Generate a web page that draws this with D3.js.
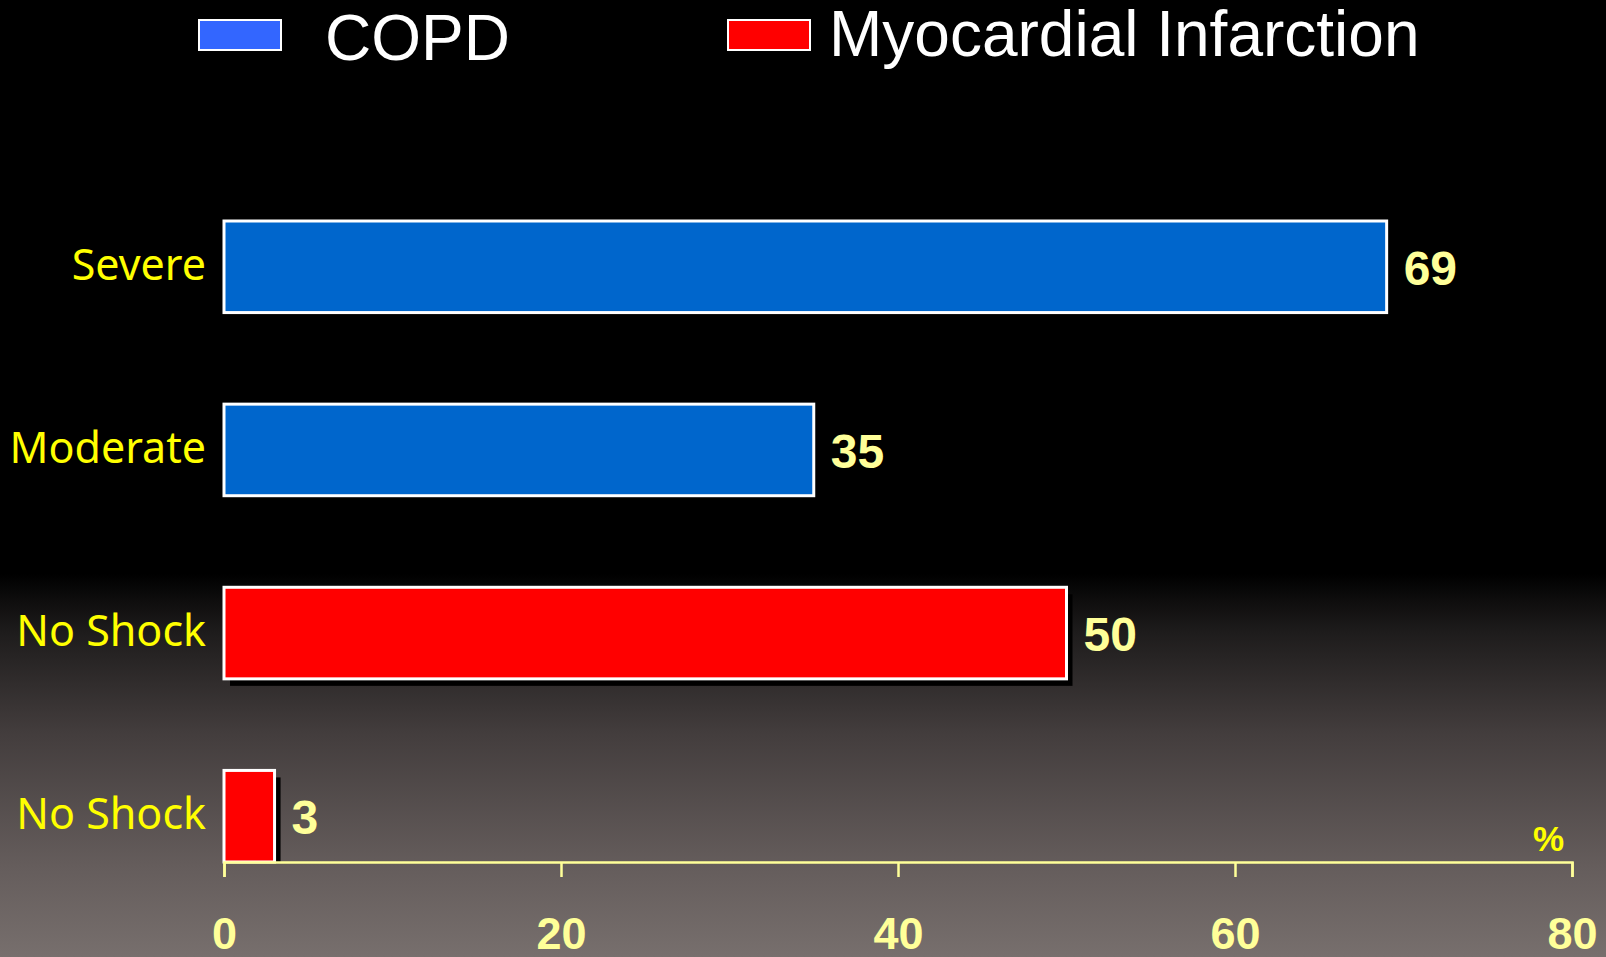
<!DOCTYPE html>
<html>
<head>
<meta charset="utf-8">
<script src="https://cdn.jsdelivr.net/npm/d3@7"></script>
<style>
  html, body { margin: 0; padding: 0; background: #000; overflow: hidden; }
</style>
</head>
<body>
<div id="chart"></div>
<script>
var w = 1606, h = 957;

// data
var categories = ["Severe", "Moderate", "No Shock", "No Shock (2)"];
var catLabels = ["Severe", "Moderate", "No Shock", "No Shock"];
var values = [69, 35, 50, 3];
var groups = ["COPD", "COPD", "MI", "MI"];
var seriesNames = ["COPD", "Myocardial Infarction"];
var tickValues = [0, 20, 40, 60, 80];

var barColor = { COPD: "#0066cc", MI: "#ff0000" };
var swatchColor = ["#3366ff", "#ff0000"];

var svg = d3.select("#chart")
	.append("svg")
	.attr("width", w)
	.attr("height", h);

// background: black top fading to grey at the bottom
var defs = svg.append("defs");
var grad = defs.append("linearGradient")
	.attr("id", "bg")
	.attr("x1", 0).attr("y1", 0)
	.attr("x2", 0).attr("y2", 1);
var stops = [[0, "#000000"], [0.6, "#000000"], [0.627, "#0e0d0d"], [0.661, "#1e1c1c"],
	[0.766, "#433d3d"], [0.906, "#655d5c"], [1, "#776f6d"]];
grad.selectAll("stop")
	.data(stops)
	.enter().append("stop")
	.attr("offset", function(d) { return d[0]; })
	.attr("stop-color", function(d) { return d[1]; });

svg.append("rect")
	.attr("width", w)
	.attr("height", h)
	.attr("fill", "url(#bg)");

var x = d3.scaleLinear().domain([0, 80]).range([224, 1572]);
var y = d3.scaleBand().domain(categories).range([221, 862]).paddingInner(0.5).paddingOuter(0);

// shadows stop at the axis line
defs.append("clipPath")
	.attr("id", "plotclip")
	.append("rect")
	.attr("x", 0).attr("y", 0)
	.attr("width", w).attr("height", 862);

// legend
var legend = svg.append("g");
var legX = [199, 728];
var textX = [325, 829];
var textY = [60, 56];
legend.selectAll("rect")
	.data(seriesNames)
	.enter().append("rect")
	.attr("x", function(d, i) { return legX[i]; })
	.attr("y", 20)
	.attr("width", 82)
	.attr("height", 30)
	.attr("fill", function(d, i) { return swatchColor[i]; })
	.attr("stroke", "#ffffff")
	.attr("stroke-width", 2);
legend.selectAll("text")
	.data(seriesNames)
	.enter().append("text")
	.text(function(d) { return d; })
	.attr("x", function(d, i) { return textX[i]; })
	.attr("y", function(d, i) { return textY[i]; })
	.attr("font-family", "Liberation Sans, Arial, sans-serif")
	.attr("font-size", 64)
	.attr("fill", "#ffffff");

// bar shadows
svg.append("g")
	.attr("clip-path", "url(#plotclip)")
	.selectAll(".shadow")
	.data(values)
	.enter().append("rect")
	.attr("class", "shadow")
	.attr("x", x(0) + 6)
	.attr("y", function(d, i) { return y(categories[i]) + 7; })
	.attr("width", function(d) { return x(d) - x(0); })
	.attr("height", y.bandwidth())
	.attr("fill", "#000000");

// bars
svg.selectAll(".bar")
	.data(values)
	.enter().append("rect")
	.attr("class", "bar")
	.attr("x", x(0))
	.attr("y", function(d, i) { return y(categories[i]); })
	.attr("width", function(d) { return x(d) - x(0); })
	.attr("height", y.bandwidth())
	.attr("fill", function(d, i) { return barColor[groups[i]]; })
	.attr("stroke", "#ffffff")
	.attr("stroke-width", 3);

// value labels
svg.selectAll(".val")
	.data(values)
	.enter().append("text")
	.attr("class", "val")
	.text(function(d) { return d; })
	.attr("x", function(d) { return x(d) + 17; })
	.attr("y", function(d, i) { return y(categories[i]) + y.bandwidth() / 2 + 18; })
	.attr("font-family", "Liberation Sans, Arial, sans-serif")
	.attr("font-weight", "bold")
	.attr("font-size", 48)
	.attr("fill", "#ffff99");

// category labels
svg.selectAll(".cat")
	.data(categories)
	.enter().append("text")
	.attr("class", "cat")
	.text(function(d, i) { return catLabels[i]; })
	.attr("x", 206)
	.attr("y", function(d) { return y(d) + y.bandwidth() / 2 + 13; })
	.attr("text-anchor", "end")
	.attr("font-family", "Noto Sans, sans-serif")
	.attr("font-size", 43)
	.attr("fill", "#ffff00");

// x axis
var axis = svg.append("g")
	.attr("transform", "translate(0,862)")
	.call(d3.axisBottom(x).tickValues(tickValues).tickSize(15).tickSizeOuter(15));
axis.select(".domain").attr("stroke", "#ffff99").attr("stroke-width", 2.5);
axis.selectAll(".tick line").attr("stroke", "#ffff99").attr("stroke-width", 2.5);
axis.selectAll(".tick text")
	.attr("y", 87)
	.attr("dy", 0)
	.attr("fill", "#ffff99")
	.attr("font-family", "Liberation Sans, Arial, sans-serif")
	.attr("font-weight", "bold")
	.attr("font-size", 45);

svg.append("text")
	.text("%")
	.attr("x", 1533)
	.attr("y", 851)
	.attr("font-family", "Liberation Sans, Arial, sans-serif")
	.attr("font-weight", "bold")
	.attr("font-size", 35)
	.attr("fill", "#ffff00");
</script>
</body>
</html>
